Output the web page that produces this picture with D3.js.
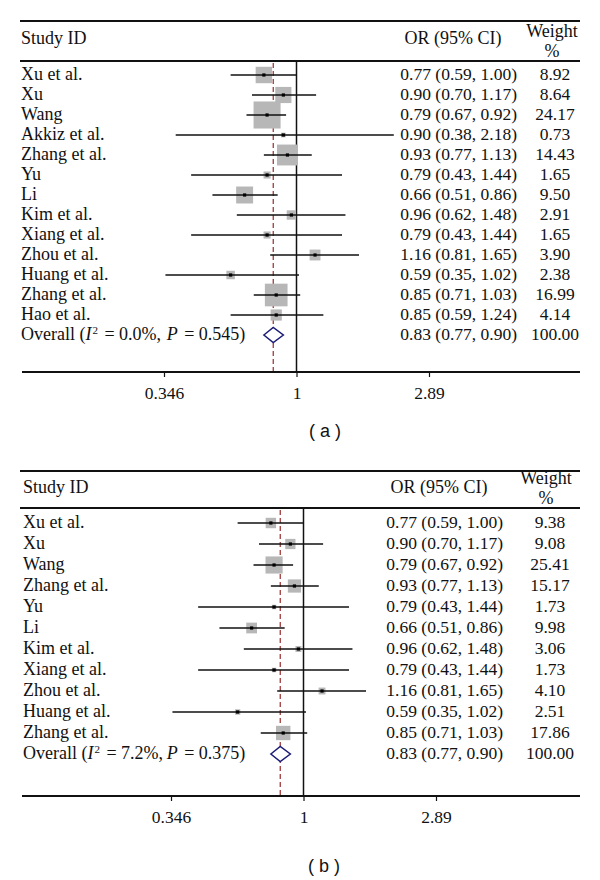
<!DOCTYPE html>
<html>
<head>
<meta charset="utf-8">
<script src="https://cdn.jsdelivr.net/npm/d3@7"></script>
<style>
  html, body { margin: 0; padding: 0; background: #fff; }
  svg { display: block; }
  text { font-family: "Liberation Serif", "Times New Roman", serif; fill: #111; }
</style>
</head>
<body>
<svg id="chart" width="600" height="880"></svg>
<script>
// ---------- data ----------
const studiesA = ["Xu et al.", "Xu", "Wang", "Akkiz et al.", "Zhang et al.", "Yu", "Li", "Kim et al.", "Xiang et al.", "Zhou et al.", "Huang et al.", "Zhang et al.", "Hao et al."];
const orA      = [0.77, 0.90, 0.79, 0.90, 0.93, 0.79, 0.66, 0.96, 0.79, 1.16, 0.59, 0.85, 0.85];
const lowA     = [0.59, 0.70, 0.67, 0.38, 0.77, 0.43, 0.51, 0.62, 0.43, 0.81, 0.35, 0.71, 0.59];
const highA    = [1.00, 1.17, 0.92, 2.18, 1.13, 1.44, 0.86, 1.48, 1.44, 1.65, 1.02, 1.03, 1.24];
const weightA  = [8.92, 8.64, 24.17, 0.73, 14.43, 1.65, 9.50, 2.91, 1.65, 3.90, 2.38, 16.99, 4.14];
const overallA = [0.83, 0.77, 0.90, 100.00];
const hetA     = ["0.0%", "0.545"];

const studiesB = ["Xu et al.", "Xu", "Wang", "Zhang et al.", "Yu", "Li", "Kim et al.", "Xiang et al.", "Zhou et al.", "Huang et al.", "Zhang et al."];
const orB      = [0.77, 0.90, 0.79, 0.93, 0.79, 0.66, 0.96, 0.79, 1.16, 0.59, 0.85];
const lowB     = [0.59, 0.70, 0.67, 0.77, 0.43, 0.51, 0.62, 0.43, 0.81, 0.35, 0.71];
const highB    = [1.00, 1.17, 0.92, 1.13, 1.44, 0.86, 1.48, 1.44, 1.65, 1.02, 1.03];
const weightB  = [9.38, 9.08, 25.41, 15.17, 1.73, 9.98, 3.06, 1.73, 4.10, 2.51, 17.86];
const overallB = [0.83, 0.77, 0.90, 100.00];
const hetB     = ["7.2%", "0.375"];

const tickValues = [0.346, 1, 2.89];
const tickLabels = ["0.346", "1", "2.89"];
const panelLabels = ["( a )", "( b )"];

// ---------- drawing ----------
const svg = d3.select("#chart");
const fmt2 = d3.format(".2f");
const FS = 18;     // label font size
const FN = 17.5;   // number font size

function drawPanel(p) {
  const g = svg.append("g");
  const n = p.studies.length;
  const x = d3.scaleLog().domain([tickValues[0], tickValues[2]]).range(p.xRange);
  const rowY = d3.scaleLinear().domain([0, 1]).range([p.row0, p.row0 + p.rowStep]);
  const base = 5;

  // frame lines
  g.append("line").attr("x1", 20).attr("x2", 580).attr("y1", p.topLine).attr("y2", p.topLine)
    .attr("stroke", "#111").attr("stroke-width", 2);
  g.append("line").attr("x1", 20).attr("x2", 580).attr("y1", p.headLine).attr("y2", p.headLine)
    .attr("stroke", "#111").attr("stroke-width", 2);

  // header
  g.append("text").attr("x", p.textX).attr("y", p.headY).attr("font-size", FS).text("Study ID");
  g.append("text").attr("x", p.orHeadX).attr("y", p.headY).attr("font-size", FS)
    .attr("text-anchor", "middle").text("OR (95% CI)");
  g.append("text").attr("x", p.wHeadX).attr("y", p.weightY).attr("font-size", FS)
    .attr("text-anchor", "middle").text("Weight");
  g.append("text").attr("x", p.wHeadX).attr("y", p.pctY).attr("font-size", FS)
    .attr("text-anchor", "middle").text("%");

  // reference line at 1 and dashed overall line
  g.append("line").attr("x1", x(1)).attr("x2", x(1)).attr("y1", p.headLine).attr("y2", p.axisY)
    .attr("stroke", "#111").attr("stroke-width", 1.5);
  g.append("line").attr("x1", x(p.overall[0])).attr("x2", x(p.overall[0]))
    .attr("y1", p.headLine + 2).attr("y2", p.axisY)
    .attr("stroke", "#9b2a2a").attr("stroke-width", 1.2).attr("stroke-dasharray", "5,3");

  const idx = d3.range(n);
  const side = i => p.boxK * Math.sqrt(p.weight[i]);
  // boxes
  g.selectAll("rect.box").data(idx).join("rect").attr("class", "box")
    .attr("x", i => x(p.or[i]) - side(i) / 2)
    .attr("y", i => rowY(i) - side(i) / 2)
    .attr("width", side).attr("height", side)
    .attr("fill", "#b7b7b7");
  // CI lines
  g.selectAll("line.ci").data(idx).join("line").attr("class", "ci")
    .attr("x1", i => x(p.low[i])).attr("x2", i => x(p.high[i]))
    .attr("y1", i => rowY(i)).attr("y2", i => rowY(i))
    .attr("stroke", "#111").attr("stroke-width", 1.4);
  // dots
  g.selectAll("rect.dot").data(idx).join("rect").attr("class", "dot")
    .attr("x", i => x(p.or[i]) - 1.6).attr("y", i => rowY(i) - 1.6)
    .attr("width", 3.2).attr("height", 3.2).attr("fill", "#000");

  // study labels
  g.selectAll("text.study").data(idx).join("text").attr("class", "study")
    .attr("x", p.textX).attr("y", i => rowY(i) + base).attr("font-size", FS)
    .text(i => p.studies[i]);
  // OR text
  g.selectAll("text.or").data(idx).join("text").attr("class", "or")
    .attr("x", p.orEndX).attr("y", i => rowY(i) + base).attr("font-size", FN)
    .attr("text-anchor", "end")
    .text(i => `${fmt2(p.or[i])} (${fmt2(p.low[i])}, ${fmt2(p.high[i])})`);
  // weights
  g.selectAll("text.w").data(idx).join("text").attr("class", "w")
    .attr("x", p.wX).attr("y", i => rowY(i) + base).attr("font-size", FN)
    .attr("text-anchor", "middle").text(i => fmt2(p.weight[i]));

  // overall row
  const oy = rowY(n);
  const ot = g.append("text").attr("x", p.textX).attr("y", oy + base).attr("font-size", FS);
  ot.append("tspan").text("Overall (");
  ot.append("tspan").attr("font-style", "italic").text("I");
  ot.append("tspan").attr("font-size", 11).attr("dy", -6).attr("dx", 1).text("2");
  ot.append("tspan").attr("dy", 6).attr("dx", 2).text(` = ${p.het[0]},`);
  ot.append("tspan").attr("dx", p.pGap).attr("font-style", "italic").text(" P");
  ot.append("tspan").attr("dx", 2).text(` = ${p.het[1]})`);

  const dh = 7.5;
  g.append("path")
    .attr("d", `M${x(p.overall[1])},${oy} L${x(p.overall[0])},${oy - dh} L${x(p.overall[2])},${oy} L${x(p.overall[0])},${oy + dh} Z`)
    .attr("fill", "#fff").attr("stroke", "#1c1c78").attr("stroke-width", 1.5);
  g.append("text").attr("x", p.orEndX).attr("y", oy + base).attr("font-size", FN)
    .attr("text-anchor", "end")
    .text(`${fmt2(p.overall[0])} (${fmt2(p.overall[1])}, ${fmt2(p.overall[2])})`);
  g.append("text").attr("x", p.wX).attr("y", oy + base).attr("font-size", FN)
    .attr("text-anchor", "middle").text(fmt2(p.overall[3]));

  // axis
  g.append("line").attr("x1", 22).attr("x2", 580).attr("y1", p.axisY).attr("y2", p.axisY)
    .attr("stroke", "#111").attr("stroke-width", 2);
  const axis = d3.axisBottom(x).tickValues(tickValues)
    .tickFormat((d, i) => tickLabels[i]).tickSize(5).tickPadding(10);
  const ag = g.append("g").attr("transform", `translate(0,${p.axisY})`).call(axis);
  ag.select(".domain").remove();
  ag.selectAll(".tick line").attr("stroke", "#111").attr("stroke-width", 1.2);
  ag.selectAll(".tick text").attr("font-size", FN).attr("fill", "#111")
    .attr("font-family", "Liberation Serif, serif");

  // panel label
  g.append("text").attr("x", p.labelX).attr("y", p.labelY).attr("font-size", 18)
    .attr("text-anchor", "middle").style("font-family", "Liberation Sans, Arial, sans-serif")
    .text(p.label);
}

drawPanel({
  studies: studiesA, or: orA, low: lowA, high: highA, weight: weightA,
  overall: overallA, het: hetA, pGap: 1,
  xRange: [164, 429], row0: 75, rowStep: 20, boxK: 5.5,
  topLine: 21, headLine: 61, headY: 44, weightY: 37, pctY: 57,
  textX: 21, orEndX: 517, orHeadX: 453, wX: 555, wHeadX: 552, axisY: 372,
  labelX: 325, labelY: 437, label: panelLabels[0]
});

drawPanel({
  studies: studiesB, or: orB, low: lowB, high: highB, weight: weightB,
  overall: overallB, het: hetB, pGap: -1,
  xRange: [171, 436], row0: 523, rowStep: 21, boxK: 3.4,
  topLine: 471, headLine: 508, headY: 493, weightY: 484, pctY: 504,
  textX: 23, orEndX: 503, orHeadX: 439, wX: 550, wHeadX: 546, axisY: 796,
  labelX: 324, labelY: 872, label: panelLabels[1]
});
</script>
</body>
</html>
